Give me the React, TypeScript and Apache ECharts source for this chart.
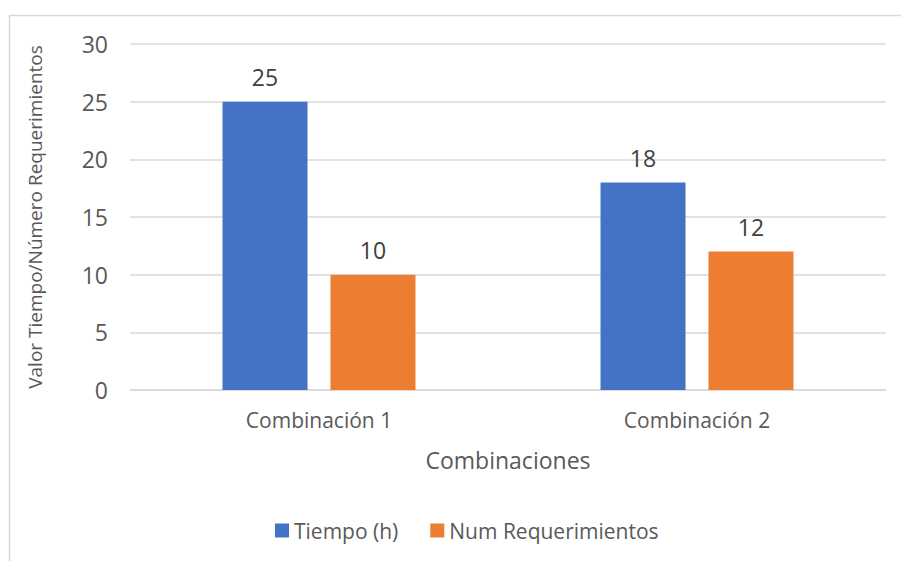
import React, { useEffect, useRef } from "react";
import * as echarts from "echarts";

const categories = ["Combinación 1", "Combinación 2"];
const tiempo = [25, 18];
const numReq = [10, 12];
const seriesNames = ["Tiempo (h)", "Num Requerimientos"];

export default function App() {
  const ref = useRef<HTMLDivElement>(null);
  useEffect(() => {
    if (!ref.current) return;
    const chart = echarts.init(ref.current, undefined, { renderer: "svg" });
    const font = "'Open Sans', 'Liberation Sans', sans-serif";
    chart.setOption({
      animation: false,
      backgroundColor: "#ffffff",
      textStyle: { fontFamily: font },
      graphic: [
        {
          type: "rect",
          shape: { x: 9.5, y: 15.5, width: 900, height: 560 },
          style: { fill: "none", stroke: "#d9d9d9", lineWidth: 1.5 },
          silent: true,
        },
      ],
      grid: { left: 130, right: 15, top: 44, bottom: 171, containLabel: false },
      legend: {
        data: seriesNames,
        top: 515,
        left: 270,
        itemWidth: 14,
        itemHeight: 14,
        itemGap: 32,
        icon: "rect",
        textStyle: { color: "#595959", fontSize: 21, fontFamily: font },
      },
      xAxis: {
        type: "category",
        data: categories,
        name: "Combinaciones",
        nameLocation: "middle",
        nameGap: 58,
        nameTextStyle: { color: "#595959", fontSize: 23, fontFamily: font },
        axisLine: { show: true, lineStyle: { color: "#d9d9d9", width: 1.5 } },
        axisTick: { show: false },
        axisLabel: { color: "#595959", fontSize: 21, margin: 19, fontFamily: font },
      },
      yAxis: {
        type: "value",
        min: 0,
        max: 30,
        interval: 5,
        name: "Valor Tiempo/Número Requerimientos",
        nameLocation: "middle",
        nameGap: 86,
        nameTextStyle: { color: "#595959", fontSize: 19, fontFamily: font },
        axisLine: { show: false },
        axisTick: { show: false },
        axisLabel: { color: "#595959", fontSize: 23, margin: 22, fontFamily: font },
        splitLine: { lineStyle: { color: "#d9d9d9", width: 1.5 } },
      },
      series: [
        {
          name: seriesNames[0],
          type: "bar",
          data: tiempo,
          barWidth: 85,
          barGap: "27%",
          itemStyle: { color: "#4472C4" },
          label: { show: true, position: "top", distance: 13, color: "#404040", fontSize: 23, fontFamily: font },
        },
        {
          name: seriesNames[1],
          type: "bar",
          data: numReq,
          barWidth: 85,
          barGap: "27%",
          itemStyle: { color: "#ED7D31" },
          label: { show: true, position: "top", distance: 13, color: "#404040", fontSize: 23, fontFamily: font },
        },
      ],
    });
    return () => chart.dispose();
  }, []);
  return (
    <div
      ref={ref}
      style={{ position: "fixed", left: 0, top: 0, width: 901, height: 561 }}
    />
  );
}
